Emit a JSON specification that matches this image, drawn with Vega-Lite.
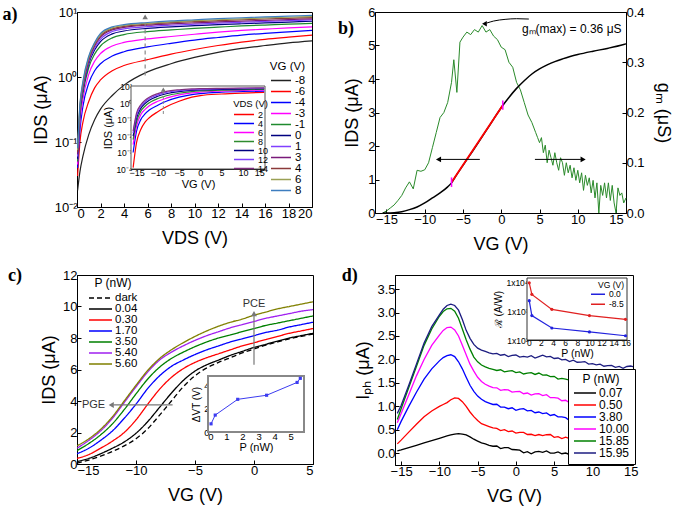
{
  "$schema": "https://vega.github.io/schema/vega-lite/v6.json",
  "padding": {"left": 2, "top": 5, "right": 2, "bottom": 2},
  "background": "white",
  "config": {
    "view": {"stroke": "#000", "strokeWidth": 1},
    "font": "Liberation Sans",
    "axis": {"grid": false, "domainColor": "#000", "tickColor": "#000", "labelColor": "#000", "titleColor": "#000", "labelFont": "Liberation Sans", "titleFont": "Liberation Sans", "labelFontSize": 13, "titleFontSize": 18, "titleFontWeight": "normal", "tickSize": -4, "labelPadding": 4, "labelOverlap": false},
    "legend": {"labelFont": "Liberation Sans", "titleFont": "Liberation Sans", "titleFontWeight": "normal", "labelColor": "#000", "titleColor": "#000"},
    "text": {"font": "Liberation Sans"}
  },
  "resolve": {"scale": {"color": "independent", "strokeDash": "independent"}, "legend": {"color": "independent", "strokeDash": "independent"}},
  "datasets": {
    "a": [
      {"V":0.05,"-8":0.018,"-6":0.03,"-4":0.04,"-3":0.045,"-1":0.05,"0":0.055,"1":0.06,"3":0.065,"4":0.07,"6":0.075,"8":0.08},
      {"V":0.25,"-8":0.035,"-6":0.1,"-4":0.15,"-3":0.2,"-1":0.25,"0":0.28,"1":0.3,"3":0.32,"4":0.34,"6":0.36,"8":0.38},
      {"V":0.5,"-8":0.06,"-6":0.2,"-4":0.35,"-3":0.45,"-1":0.55,"0":0.62,"1":0.66,"3":0.7,"4":0.75,"6":0.8,"8":0.85},
      {"V":1,"-8":0.13,"-6":0.42,"-4":0.8,"-3":1.1,"-1":1.4,"0":1.6,"1":1.7,"3":1.8,"4":1.9,"6":2.0,"8":2.1},
      {"V":1.5,"-8":0.22,"-6":0.68,"-4":1.25,"-3":1.75,"-1":2.25,"0":2.6,"1":2.8,"3":3.0,"4":3.2,"6":3.3,"8":3.4},
      {"V":2,"-8":0.32,"-6":0.9,"-4":1.6,"-3":2.3,"-1":3.0,"0":3.5,"1":3.8,"3":4.1,"4":4.3,"6":4.5,"8":4.7},
      {"V":3,"-8":0.52,"-6":1.25,"-4":2.1,"-3":3.0,"-1":4.0,"0":4.6,"1":5.0,"3":5.3,"4":5.5,"6":5.7,"8":5.9},
      {"V":4,"-8":0.75,"-6":1.5,"-4":2.45,"-3":3.4,"-1":4.5,"0":5.1,"1":5.5,"3":5.8,"4":6.0,"6":6.2,"8":6.4},
      {"V":6,"-8":1.2,"-6":1.85,"-4":2.9,"-3":3.85,"-1":5.0,"0":5.6,"1":5.95,"3":6.25,"4":6.5,"6":6.7,"8":6.9},
      {"V":8,"-8":1.6,"-6":2.25,"-4":3.3,"-3":4.2,"-1":5.3,"0":5.9,"1":6.25,"3":6.55,"4":6.85,"6":7.05,"8":7.3},
      {"V":10,"-8":2.0,"-6":2.65,"-4":3.7,"-3":4.55,"-1":5.6,"0":6.15,"1":6.5,"3":6.8,"4":7.1,"6":7.35,"8":7.6},
      {"V":12,"-8":2.4,"-6":3.05,"-4":4.05,"-3":4.9,"-1":5.85,"0":6.4,"1":6.75,"3":7.05,"4":7.35,"6":7.6,"8":7.9},
      {"V":14,"-8":2.75,"-6":3.45,"-4":4.4,"-3":5.2,"-1":6.1,"0":6.6,"1":6.95,"3":7.25,"4":7.6,"6":7.85,"8":8.15},
      {"V":16,"-8":3.05,"-6":3.8,"-4":4.7,"-3":5.45,"-1":6.3,"0":6.8,"1":7.15,"3":7.45,"4":7.8,"6":8.1,"8":8.4},
      {"V":18,"-8":3.35,"-6":4.1,"-4":4.95,"-3":5.7,"-1":6.5,"0":7.0,"1":7.35,"3":7.65,"4":8.0,"6":8.3,"8":8.65},
      {"V":20,"-8":3.6,"-6":4.4,"-4":5.2,"-3":5.9,"-1":6.7,"0":7.2,"1":7.55,"3":7.85,"4":8.2,"6":8.5,"8":8.9}
    ],
    "ai": [
      {"V":-15.8,"2":0.00012,"4":0.001,"6":0.003,"8":0.006,"10":0.01,"12":0.015,"14":0.02},
      {"V":-15,"2":0.004,"4":0.02,"6":0.04,"8":0.07,"10":0.12,"12":0.18,"14":0.25},
      {"V":-14,"2":0.025,"4":0.1,"6":0.2,"8":0.32,"10":0.48,"12":0.65,"14":0.8},
      {"V":-13,"2":0.07,"4":0.22,"6":0.42,"8":0.65,"10":0.95,"12":1.2,"14":1.5},
      {"V":-12,"2":0.13,"4":0.38,"6":0.7,"8":1.05,"10":1.5,"12":1.9,"14":2.3},
      {"V":-10,"2":0.3,"4":0.75,"6":1.3,"8":1.9,"10":2.6,"12":3.2,"14":3.8},
      {"V":-8,"2":0.6,"4":1.3,"6":2.0,"8":2.8,"10":3.7,"12":4.5,"14":5.2},
      {"V":-5,"2":1.3,"4":2.3,"6":3.2,"8":4.0,"10":5.0,"12":5.8,"14":6.5},
      {"V":-2,"2":2.3,"4":3.3,"6":4.2,"8":5.0,"10":5.9,"12":6.6,"14":7.3},
      {"V":0,"2":2.9,"4":3.8,"6":4.7,"8":5.5,"10":6.3,"12":7.0,"14":7.6},
      {"V":5,"2":3.6,"4":4.6,"6":5.4,"8":6.1,"10":6.9,"12":7.5,"14":8.0},
      {"V":10,"2":4.1,"4":5.1,"6":5.9,"8":6.6,"10":7.3,"12":7.9,"14":8.3},
      {"V":15,"2":4.5,"4":5.4,"6":6.2,"8":6.9,"10":7.6,"12":8.1,"14":8.5}
    ],
    "bI": [
      {"x":-15.5,"I":0},{"x":-15,"I":0},{"x":-14,"I":0.01},{"x":-13,"I":0.04},{"x":-12,"I":0.1},{"x":-11,"I":0.18},{"x":-10,"I":0.3},{"x":-9,"I":0.45},{"x":-8,"I":0.6},{"x":-7,"I":0.78},{"x":-6.5,"I":0.9},{"x":-6,"I":1.08},{"x":-5,"I":1.42},{"x":-4,"I":1.76},{"x":-3,"I":2.1},{"x":-2,"I":2.45},{"x":-1,"I":2.8},{"x":0,"I":3.15},{"x":1,"I":3.45},{"x":2,"I":3.72},{"x":3,"I":3.95},{"x":4,"I":4.15},{"x":5,"I":4.3},{"x":6,"I":4.42},{"x":7,"I":4.52},{"x":8,"I":4.6},{"x":9,"I":4.67},{"x":10,"I":4.73},{"x":12,"I":4.83},{"x":14,"I":4.92},{"x":16,"I":5.03},{"x":16.3,"I":5.05}
    ],
    "bg": [
      {"x":-15.5,"g":0.0},{"x":-15,"g":0.004},{"x":-14.5,"g":0.01},{"x":-14,"g":0.016},{"x":-13.5,"g":0.025},{"x":-13,"g":0.035},{"x":-12.5,"g":0.05},{"x":-12,"g":0.062},{"x":-11.5,"g":0.048},{"x":-11,"g":0.085},{"x":-10.5,"g":0.083},{"x":-10,"g":0.086},{"x":-9.5,"g":0.1},{"x":-9,"g":0.13},{"x":-8.5,"g":0.16},{"x":-8,"g":0.19},{"x":-7.5,"g":0.2},{"x":-7,"g":0.22},{"x":-6.5,"g":0.26},{"x":-6.2,"g":0.305},{"x":-5.8,"g":0.24},{"x":-5.4,"g":0.34},{"x":-5,"g":0.35},{"x":-4.5,"g":0.36},{"x":-4,"g":0.355},{"x":-3.5,"g":0.365},{"x":-3,"g":0.36},{"x":-2.5,"g":0.373},{"x":-2,"g":0.36},{"x":-1.5,"g":0.365},{"x":-1,"g":0.352},{"x":-0.5,"g":0.345},{"x":0,"g":0.33},{"x":0.5,"g":0.325},{"x":1,"g":0.3},{"x":1.5,"g":0.29},{"x":2,"g":0.26},{"x":2.5,"g":0.245},{"x":3,"g":0.22},{"x":3.5,"g":0.195},{"x":4,"g":0.18},{"x":4.5,"g":0.16},
      {"x":4.75,"g":0.15},{"x":5,"g":0.14},{"x":5.25,"g":0.15},{"x":5.5,"g":0.12},{"x":5.75,"g":0.135},{"x":6,"g":0.1},{"x":6.25,"g":0.125},{"x":6.5,"g":0.11},{"x":6.75,"g":0.095},{"x":7,"g":0.12},{"x":7.25,"g":0.1},{"x":7.5,"g":0.085},{"x":7.75,"g":0.11},{"x":8,"g":0.1},{"x":8.25,"g":0.075},{"x":8.5,"g":0.1},{"x":8.75,"g":0.08},{"x":9,"g":0.095},{"x":9.25,"g":0.07},{"x":9.5,"g":0.09},{"x":9.75,"g":0.065},{"x":10,"g":0.085},{"x":10.25,"g":0.06},{"x":10.5,"g":0.08},{"x":10.75,"g":0.045},{"x":11,"g":0.075},{"x":11.25,"g":0.055},{"x":11.5,"g":0.07},{"x":11.75,"g":0.04},{"x":12,"g":0.065},{"x":12.25,"g":0.03},{"x":12.5,"g":0.06},{"x":12.75,"g":0.0},{"x":13,"g":0.055},{"x":13.25,"g":0.035},{"x":13.5,"g":0.06},{"x":13.75,"g":0.03},{"x":14,"g":0.06},{"x":14.25,"g":0.025},{"x":14.5,"g":0.055},{"x":14.75,"g":0.02},{"x":15,"g":0.0},{"x":15.25,"g":0.05},{"x":15.5,"g":0.035},{"x":15.75,"g":0.04},{"x":16,"g":0.02},{"x":16.3,"g":0.03}
    ],
    "c": [
      {"V":-15,"dark":0.05,"0_04":0.15,"0_30":0.35,"1_70":0.65,"3_50":0.85,"5_40":1.0,"5_60":1.15},
      {"V":-14,"dark":0.25,"0_04":0.35,"0_30":0.6,"1_70":1.0,"3_50":1.3,"5_40":1.5,"5_60":1.6},
      {"V":-13,"dark":0.5,"0_04":0.65,"0_30":1.0,"1_70":1.5,"3_50":1.85,"5_40":2.1,"5_60":2.2},
      {"V":-12,"dark":0.8,"0_04":1.0,"0_30":1.45,"1_70":2.1,"3_50":2.55,"5_40":2.9,"5_60":3.0},
      {"V":-11,"dark":1.15,"0_04":1.4,"0_30":2.0,"1_70":2.9,"3_50":3.45,"5_40":3.9,"5_60":4.0},
      {"V":-10,"dark":1.6,"0_04":1.95,"0_30":2.8,"1_70":3.8,"3_50":4.45,"5_40":4.9,"5_60":5.0},
      {"V":-9,"dark":2.25,"0_04":2.7,"0_30":3.8,"1_70":4.8,"3_50":5.4,"5_40":5.85,"5_60":5.95},
      {"V":-8,"dark":3.1,"0_04":3.6,"0_30":4.75,"1_70":5.6,"3_50":6.15,"5_40":6.6,"5_60":6.7},
      {"V":-7,"dark":4.0,"0_04":4.5,"0_30":5.5,"1_70":6.2,"3_50":6.7,"5_40":7.1,"5_60":7.25},
      {"V":-6,"dark":4.9,"0_04":5.3,"0_30":6.05,"1_70":6.6,"3_50":7.1,"5_40":7.5,"5_60":7.7},
      {"V":-5,"dark":5.6,"0_04":5.9,"0_30":6.45,"1_70":6.95,"3_50":7.45,"5_40":7.85,"5_60":8.1},
      {"V":-4,"dark":6.1,"0_04":6.3,"0_30":6.75,"1_70":7.25,"3_50":7.75,"5_40":8.15,"5_60":8.45},
      {"V":-3,"dark":6.45,"0_04":6.6,"0_30":7.0,"1_70":7.5,"3_50":8.0,"5_40":8.4,"5_60":8.75},
      {"V":-2,"dark":6.75,"0_04":6.9,"0_30":7.25,"1_70":7.75,"3_50":8.2,"5_40":8.65,"5_60":9.0},
      {"V":-1,"dark":7.05,"0_04":7.15,"0_30":7.5,"1_70":7.95,"3_50":8.4,"5_40":8.85,"5_60":9.2},
      {"V":0,"dark":7.3,"0_04":7.4,"0_30":7.7,"1_70":8.15,"3_50":8.6,"5_40":9.05,"5_60":9.45},
      {"V":1,"dark":7.55,"0_04":7.6,"0_30":7.9,"1_70":8.35,"3_50":8.8,"5_40":9.25,"5_60":9.65},
      {"V":2,"dark":7.75,"0_04":7.8,"0_30":8.1,"1_70":8.5,"3_50":8.95,"5_40":9.4,"5_60":9.85},
      {"V":3,"dark":7.95,"0_04":8.0,"0_30":8.3,"1_70":8.7,"3_50":9.1,"5_40":9.55,"5_60":10.0},
      {"V":4,"dark":8.1,"0_04":8.15,"0_30":8.45,"1_70":8.85,"3_50":9.25,"5_40":9.7,"5_60":10.15},
      {"V":5,"dark":8.25,"0_04":8.3,"0_30":8.6,"1_70":9.0,"3_50":9.4,"5_40":9.8,"5_60":10.3}
    ],
    "ci": [
      {"P":0.04,"dV":0.7},{"P":0.3,"dV":1.45},{"P":1.7,"dV":2.8},{"P":3.5,"dV":3.15},{"P":5.4,"dV":4.25},{"P":5.6,"dV":4.6}
    ],
    "d": [
      {"x":-15.5,"0_07":0.05,"0_50":0.2,"3_80":0.5,"10_00":0.65,"15_85":0.72,"15_95":0.85},
      {"x":-15,"0_07":0.07,"0_50":0.28,"3_80":0.68,"10_00":0.85,"15_85":0.95,"15_95":1.02},
      {"x":-14,"0_07":0.12,"0_50":0.45,"3_80":1.0,"10_00":1.25,"15_85":1.4,"15_95":1.45},
      {"x":-13,"0_07":0.17,"0_50":0.62,"3_80":1.3,"10_00":1.65,"15_85":1.85,"15_95":1.9},
      {"x":-12,"0_07":0.22,"0_50":0.78,"3_80":1.58,"10_00":2.0,"15_85":2.3,"15_95":2.35},
      {"x":-11,"0_07":0.27,"0_50":0.9,"3_80":1.8,"10_00":2.3,"15_85":2.65,"15_95":2.7},
      {"x":-10,"0_07":0.32,"0_50":1.0,"3_80":1.97,"10_00":2.52,"15_85":2.92,"15_95":2.95},
      {"x":-9.5,"0_07":0.345,"0_50":1.04,"3_80":2.04,"10_00":2.62,"15_85":3.02,"15_95":3.07},
      {"x":-9,"0_07":0.37,"0_50":1.08,"3_80":2.08,"10_00":2.68,"15_85":3.08,"15_95":3.15},
      {"x":-8.5,"0_07":0.39,"0_50":1.14,"3_80":2.1,"10_00":2.69,"15_85":3.09,"15_95":3.18},
      {"x":-8,"0_07":0.41,"0_50":1.18,"3_80":2.06,"10_00":2.63,"15_85":3.03,"15_95":3.15},
      {"x":-7.5,"0_07":0.42,"0_50":1.17,"3_80":1.95,"10_00":2.5,"15_85":2.88,"15_95":3.05},
      {"x":-7,"0_07":0.41,"0_50":1.1,"3_80":1.8,"10_00":2.3,"15_85":2.65,"15_95":2.85},
      {"x":-6.5,"0_07":0.39,"0_50":1.0,"3_80":1.62,"10_00":2.1,"15_85":2.42,"15_95":2.62},
      {"x":-6,"0_07":0.35,"0_50":0.88,"3_80":1.45,"10_00":1.9,"15_85":2.22,"15_95":2.45},
      {"x":-5.5,"0_07":0.3,"0_50":0.78,"3_80":1.32,"10_00":1.75,"15_85":2.05,"15_95":2.32},
      {"x":-5,"0_07":0.26,"0_50":0.7,"3_80":1.22,"10_00":1.62,"15_85":1.95,"15_95":2.24},
      {"x":-4.5,"0_07":0.22,"0_50":0.63,"3_80":1.15,"10_00":1.53,"15_85":1.88,"15_95":2.2},
      {"x":-4,"0_07":0.2,"0_50":0.6,"3_80":1.1,"10_00":1.47,"15_85":1.84,"15_95":2.17},
      {"x":-3.5,"0_07":0.17,"0_50":0.57,"3_80":1.07,"10_00":1.43,"15_85":1.81,"15_95":2.14},
      {"x":-3,"0_07":0.15,"0_50":0.54,"3_80":1.04,"10_00":1.4,"15_85":1.79,"15_95":2.12},
      {"x":-2.5,"0_07":0.155,"0_50":0.53,"3_80":1.045,"10_00":1.395,"15_85":1.765,"15_95":2.13},
      {"x":-2,"0_07":0.10,"0_50":0.485,"3_80":0.985,"10_00":1.34,"15_85":1.78,"15_95":2.09},
      {"x":-1.5,"0_07":0.12,"0_50":0.505,"3_80":0.985,"10_00":1.355,"15_85":1.735,"15_95":2.105},
      {"x":-1,"0_07":0.12,"0_50":0.46,"3_80":0.95,"10_00":1.35,"15_85":1.75,"15_95":2.06},
      {"x":-0.5,"0_07":0.08,"0_50":0.475,"3_80":0.97,"10_00":1.305,"15_85":1.76,"15_95":2.085},
      {"x":0,"0_07":0.075,"0_50":0.43,"3_80":0.915,"10_00":1.315,"15_85":1.72,"15_95":2.095},
      {"x":0.5,"0_07":0.065,"0_50":0.445,"3_80":0.94,"10_00":1.32,"15_85":1.735,"15_95":2.05},
      {"x":1,"0_07":0.01,"0_50":0.445,"3_80":0.95,"10_00":1.27,"15_85":1.69,"15_95":2.065},
      {"x":1.5,"0_07":0.035,"0_50":0.4,"3_80":0.905,"10_00":1.285,"15_85":1.71,"15_95":2.05},
      {"x":2,"0_07":-0.01,"0_50":0.405,"3_80":0.915,"10_00":1.24,"15_85":1.72,"15_95":2.08},
      {"x":2.5,"0_07":0.03,"0_50":0.375,"3_80":0.865,"10_00":1.265,"15_85":1.68,"15_95":2.03},
      {"x":3,"0_07":0.04,"0_50":0.4,"3_80":0.88,"10_00":1.27,"15_85":1.71,"15_95":2.06},
      {"x":3.5,"0_07":0.02,"0_50":0.375,"3_80":0.845,"10_00":1.23,"15_85":1.665,"15_95":2.09},
      {"x":4,"0_07":0.05,"0_50":0.395,"3_80":0.86,"10_00":1.25,"15_85":1.67,"15_95":2.055},
      {"x":4.5,"0_07":0.005,"0_50":0.4,"3_80":0.805,"10_00":1.185,"15_85":1.635,"15_95":2.065},
      {"x":5,"0_07":0.005,"0_50":0.34,"3_80":0.825,"10_00":1.185,"15_85":1.64,"15_95":2.02},
      {"x":5.5,"0_07":0.03,"0_50":0.355,"3_80":0.775,"10_00":1.175,"15_85":1.58,"15_95":2.03},
      {"x":6,"0_07":-0.01,"0_50":0.315,"3_80":0.775,"10_00":1.12,"15_85":1.595,"15_95":1.99},
      {"x":6.5,"0_07":0.005,"0_50":0.345,"3_80":0.76,"10_00":1.13,"15_85":1.58,"15_95":2.0},
      {"x":7,"0_07":-0.025,"0_50":0.315,"3_80":0.7,"10_00":1.075,"15_85":1.56,"15_95":1.955},
      {"x":7.5,"0_07":0.01,"0_50":0.32,"3_80":0.72,"10_00":1.1,"15_85":1.58,"15_95":1.985},
      {"x":8,"0_07":0.02,"0_50":0.28,"3_80":0.695,"10_00":1.1,"15_85":1.535,"15_95":1.94},
      {"x":8.5,"0_07":-0.005,"0_50":0.305,"3_80":0.71,"10_00":1.065,"15_85":1.55,"15_95":1.945},
      {"x":9,"0_07":0.015,"0_50":0.27,"3_80":0.665,"10_00":1.075,"15_85":1.555,"15_95":1.955},
      {"x":9.5,"0_07":-0.02,"0_50":0.29,"3_80":0.68,"10_00":1.03,"15_85":1.51,"15_95":1.9},
      {"x":10,"0_07":0.01,"0_50":0.25,"3_80":0.685,"10_00":1.05,"15_85":1.525,"15_95":1.91},
      {"x":10.5,"0_07":0.025,"0_50":0.27,"3_80":0.64,"10_00":1.055,"15_85":1.48,"15_95":1.885},
      {"x":11,"0_07":-0.01,"0_50":0.255,"3_80":0.655,"10_00":1.01,"15_85":1.51,"15_95":1.9},
      {"x":11.5,"0_07":0.005,"0_50":0.225,"3_80":0.61,"10_00":1.015,"15_85":1.51,"15_95":1.855},
      {"x":12,"0_07":0.02,"0_50":0.255,"3_80":0.63,"10_00":1.02,"15_85":1.465,"15_95":1.87},
      {"x":12.5,"0_07":-0.015,"0_50":0.225,"3_80":0.63,"10_00":0.975,"15_85":1.475,"15_95":1.875},
      {"x":13,"0_07":0.01,"0_50":0.25,"3_80":0.59,"10_00":0.99,"15_85":1.49,"15_95":1.83},
      {"x":13.5,"0_07":-0.01,"0_50":0.22,"3_80":0.61,"10_00":0.965,"15_85":1.45,"15_95":1.85},
      {"x":14,"0_07":0.02,"0_50":0.23,"3_80":0.57,"10_00":0.99,"15_85":1.475,"15_95":1.81},
      {"x":14.5,"0_07":0.005,"0_50":0.2,"3_80":0.585,"10_00":0.965,"15_85":1.43,"15_95":1.85},
      {"x":15,"0_07":-0.015,"0_50":0.23,"3_80":0.54,"10_00":0.94,"15_85":1.46,"15_95":1.86},
      {"x":15.5,"0_07":0.0,"0_50":0.2,"3_80":0.56,"10_00":0.96,"15_85":1.445,"15_95":1.84}
    ],
    "di": [
      {"P":0.07,"R":2300,"VG":"0.0"},{"P":0.5,"R":700,"VG":"0.0"},{"P":3.8,"R":260,"VG":"0.0"},{"P":10,"R":190,"VG":"0.0"},{"P":15.95,"R":140,"VG":"0.0"},
      {"P":0.07,"R":9500,"VG":"-8.5"},{"P":0.5,"R":3800,"VG":"-8.5"},{"P":3.8,"R":1150,"VG":"-8.5"},{"P":10,"R":700,"VG":"-8.5"},{"P":15.95,"R":520,"VG":"-8.5"}
    ]
  },
  "vconcat": [
    {
      "resolve": {"scale": {"color": "independent", "strokeDash": "independent"}, "legend": {"color": "independent", "strokeDash": "independent"}},
      "hconcat": [
        {
          "width": 235, "height": 195,
          "layer": [
            {"layer": [
              {"data": {"name": "a"}, "transform": [{"fold": ["-8","-6","-4","-3","-1","0","1","3","4","6","8"], "as": ["VG","I"]}],
               "mark": {"type": "line", "strokeWidth": 1.2, "interpolate": "monotone", "clip": true},
               "encoding": {
                 "x": {"field": "V", "type": "quantitative", "scale": {"domain": [0, 20], "nice": false}, "axis": {"orient": "bottom", "values": [0,2,4,6,8,10,12,14,16,18,20], "tickCount": 50, "format": "d", "labelOverlap": false, "title": "VDS (V)", "titlePadding": 9}},
                 "y": {"field": "I", "type": "quantitative", "scale": {"type": "log", "domain": [0.01, 10], "nice": false}, "axis": {"orient": "left", "values": [0.01,0.1,1,10], "tickCount": 50, "labelOverlap": false, "labelExpr": "datum.value > 5 ? '10¹' : datum.value > 0.5 ? '10⁰' : datum.value > 0.05 ? '10⁻¹' : '10⁻²'", "title": "IDS (μA)"}},
                 "color": {"field": "VG", "type": "nominal", "scale": {"domain": ["-8","-6","-4","-3","-1","0","1","3","4","6","8"], "range": ["#222222","#ff0000","#0000ff","#ff00ff","#1f8a2e","#000080","#8040ff","#7a1a7a","#8b3a3a","#9aa055","#3d7dbf"]},
                   "legend": {"orient": "none", "legendX": 193, "legendY": 49, "title": "VG (V)", "titleFontSize": 11.5, "labelFontSize": 11.5, "symbolType": "stroke", "symbolSize": 400, "symbolStrokeWidth": 1.5, "clipHeight": 10, "rowPadding": -1.7, "titlePadding": 3, "labelOffset": 3, "padding": 0, "titleAnchor": "end"}}
               }},
              {"data": {"values": [{}]}, "mark": {"type": "rule", "color": "#888", "strokeDash": [4, 3], "strokeWidth": 1.2}, "encoding": {"x": {"datum": 5.8}, "y": {"datum": 1.05}, "y2": {"datum": 7.3}}},
              {"data": {"values": [{}]}, "mark": {"type": "point", "shape": "triangle-up", "filled": true, "color": "#777", "size": 30, "opacity": 1}, "encoding": {"x": {"datum": 5.8}, "y": {"datum": 8.4}}},
              {"data": {"values": [{}]}, "mark": {"type": "text", "font": "Liberation Serif", "fontWeight": "bold", "fontSize": 18, "align": "center", "baseline": "middle"}, "encoding": {"x": {"datum": -5.7}, "y": {"datum": 9.0}, "text": {"value": "a)"}}}
            ]},
            {"layer": [
              {"data": {"values": [{}]}, "mark": {"type": "rect", "fill": "white", "stroke": "#555", "strokeWidth": 1},
               "encoding": {
                 "x": {"datum": -16.3, "type": "quantitative", "scale": {"domain": [-16.3, 15.2], "range": [54, 188], "nice": false, "zero": false}, "axis": {"orient": "bottom", "offset": -38, "values": [-15,-10,-5,0,5,10,15], "tickCount": 50, "format": "d", "labelOverlap": false, "title": "VG (V)", "labelFontSize": 9, "titleFontSize": 11, "tickSize": -3, "labelPadding": 2, "titlePadding": 1}},
                 "x2": {"datum": 15.2},
                 "y": {"datum": 0.0001, "type": "quantitative", "scale": {"type": "log", "domain": [0.0001, 11], "range": [157, 74], "nice": false}, "axis": {"orient": "left", "offset": -54, "values": [0.0001,0.001,0.01,0.1,1,10], "tickCount": 50, "labelOverlap": false, "labelExpr": "datum.value > 5 ? '10¹' : datum.value > 0.5 ? '10⁰' : datum.value > 0.05 ? '10⁻¹' : datum.value > 0.005 ? '10⁻²' : datum.value > 0.0005 ? '10⁻³' : '10⁻⁴'", "title": "IDS (μA)", "labelFontSize": 8.5, "titleFontSize": 11, "tickSize": -3, "labelPadding": 2, "titlePadding": 2}},
                 "y2": {"datum": 11}
               }},
              {"data": {"name": "ai"}, "transform": [{"fold": ["2","4","6","8","10","12","14"], "as": ["VDS","I"]}],
               "mark": {"type": "line", "strokeWidth": 1.2, "interpolate": "monotone", "clip": true},
               "encoding": {
                 "x": {"field": "V", "type": "quantitative"},
                 "y": {"field": "I", "type": "quantitative"},
                 "color": {"field": "VDS", "type": "nominal", "scale": {"domain": ["2","4","6","8","10","12","14"], "range": ["#ff0000","#0000ff","#ff00ff","#2e8b2e","#000080","#8040ff","#803080"]},
                   "legend": {"orient": "none", "legendX": 156, "legendY": 87, "title": "VDS (V)", "titleFontSize": 9.5, "labelFontSize": 9, "symbolType": "stroke", "symbolSize": 400, "symbolStrokeWidth": 1.5, "clipHeight": 8, "rowPadding": -1.5, "titlePadding": 2, "labelOffset": 3, "padding": 0, "titleAnchor": "end"}}
               }},
              {"data": {"values": [{}]}, "mark": {"type": "rule", "color": "#888", "strokeDash": [3, 2], "strokeWidth": 1}, "encoding": {"x": {"datum": -8.7}, "y": {"datum": 0.22}, "y2": {"datum": 4.9}}},
              {"data": {"values": [{}]}, "mark": {"type": "point", "shape": "triangle-up", "filled": true, "color": "#777", "size": 25, "opacity": 1}, "encoding": {"x": {"datum": -8.7}, "y": {"datum": 6.6}}}
            ]}
          ],
          "resolve": {"scale": {"x": "independent", "y": "independent", "color": "independent"}}
        },
        {
          "width": 251, "height": 201,
          "layer": [
            {"data": {"name": "bg"}, "mark": {"type": "line", "color": "#2a8a2a", "strokeWidth": 1},
             "encoding": {
               "x": {"field": "x", "type": "quantitative", "scale": {"domain": [-16.5, 16.3], "nice": false, "zero": false}, "axis": {"orient": "bottom", "values": [-15,-10,-5,0,5,10,15], "tickCount": 50, "format": "d", "labelOverlap": false, "title": "VG (V)", "titlePadding": 9}},
               "y": {"field": "g", "type": "quantitative", "scale": {"domain": [0, 0.4], "nice": false}, "axis": {"orient": "right", "values": [0,0.1,0.2,0.3,0.4], "tickCount": 50, "labelOverlap": false, "format": ".1f", "title": "gₘ (μS)", "titlePadding": 9}}
             }},
            {"layer": [
              {"data": {"name": "bI"}, "mark": {"type": "line", "color": "#000", "strokeWidth": 1.5, "interpolate": "monotone"},
               "encoding": {
                 "x": {"field": "x", "type": "quantitative"},
                 "y": {"field": "I", "type": "quantitative", "scale": {"domain": [0, 6], "nice": false}, "axis": {"orient": "left", "values": [0,1,2,3,4,5,6], "tickCount": 50, "format": "d", "labelOverlap": false, "title": "IDS (μA)", "titlePadding": 6}}
               }},
              {"data": {"values": [{"x": -6.5, "I": 0.92}, {"x": 0.2, "I": 3.22}]}, "mark": {"type": "line", "color": "#ff0000", "strokeWidth": 1.8}, "encoding": {"x": {"field": "x", "type": "quantitative"}, "y": {"field": "I", "type": "quantitative"}}},
              {"data": {"values": [{"x": -6.5, "I": 0.92}, {"x": 0.2, "I": 3.22}]}, "mark": {"type": "point", "shape": "M0,-1L0,1", "color": "#ff00ff", "strokeWidth": 1.5, "size": 90, "opacity": 1}, "encoding": {"x": {"field": "x", "type": "quantitative"}, "y": {"field": "I", "type": "quantitative"}}},
              {"data": {"values": [{}]}, "mark": {"type": "rule", "color": "#000", "strokeWidth": 1}, "encoding": {"x": {"datum": -2.8}, "x2": {"datum": -7.9}, "y": {"datum": 1.6}}},
              {"data": {"values": [{}]}, "mark": {"type": "point", "shape": "triangle-left", "filled": true, "color": "#000", "size": 35, "opacity": 1}, "encoding": {"x": {"datum": -8.2}, "y": {"datum": 1.6}}},
              {"data": {"values": [{}]}, "mark": {"type": "rule", "color": "#000", "strokeWidth": 1}, "encoding": {"x": {"datum": 4.4}, "x2": {"datum": 10.4}, "y": {"datum": 1.6}}},
              {"data": {"values": [{}]}, "mark": {"type": "point", "shape": "triangle-right", "filled": true, "color": "#000", "size": 35, "opacity": 1}, "encoding": {"x": {"datum": 10.7}, "y": {"datum": 1.6}}},
              {"data": {"values": [{"x": 3.6, "I": 5.79}, {"x": 2, "I": 5.8}, {"x": 0.5, "I": 5.78}, {"x": -1, "I": 5.73}, {"x": -1.9, "I": 5.67}]}, "mark": {"type": "line", "color": "#000", "strokeWidth": 1, "interpolate": "monotone"}, "encoding": {"x": {"field": "x", "type": "quantitative"}, "y": {"field": "I", "type": "quantitative"}}},
              {"data": {"values": [{}]}, "mark": {"type": "point", "shape": "triangle-left", "filled": true, "color": "#000", "size": 30, "opacity": 1}, "encoding": {"x": {"datum": -2.2}, "y": {"datum": 5.65}}},
              {"data": {"values": [{}]}, "mark": {"type": "text", "fontSize": 12, "align": "left", "baseline": "middle"}, "encoding": {"x": {"datum": 2.7}, "y": {"datum": 5.5}, "text": {"value": "gₘ(max) = 0.36 μS"}}},
              {"data": {"values": [{}]}, "mark": {"type": "text", "font": "Liberation Serif", "fontWeight": "bold", "fontSize": 18, "align": "center", "baseline": "middle"}, "encoding": {"x": {"datum": -20.3}, "y": {"datum": 5.49}, "text": {"value": "b)"}}}
            ]}
          ],
          "resolve": {"scale": {"y": "independent"}}
        }
      ],
      "spacing": 24
    },
    {
      "resolve": {"scale": {"color": "independent", "strokeDash": "independent"}, "legend": {"color": "independent", "strokeDash": "independent"}},
      "hconcat": [
        {
          "width": 236, "height": 189,
          "layer": [
            {"layer": [
              {"data": {"name": "c"}, "transform": [{"fold": ["dark","0_04","0_30","1_70","3_50","5_40","5_60"], "as": ["P","I"]}],
               "mark": {"type": "line", "strokeWidth": 1.3, "interpolate": "monotone", "clip": true},
               "encoding": {
                 "x": {"field": "V", "type": "quantitative", "scale": {"domain": [-15, 5], "nice": false, "zero": false}, "axis": {"orient": "bottom", "values": [-15,-10,-5,0,5], "tickCount": 50, "format": "d", "labelOverlap": false, "title": "VG (V)", "titlePadding": 9}},
                 "y": {"field": "I", "type": "quantitative", "scale": {"domain": [0, 12], "nice": false}, "axis": {"orient": "left", "values": [0,2,4,6,8,10,12], "tickCount": 50, "format": "d", "labelOverlap": false, "title": "IDS (μA)"}},
                 "color": {"field": "P", "type": "nominal", "scale": {"domain": ["dark","0_04","0_30","1_70","3_50","5_40","5_60"], "range": ["#000000","#000000","#ff0000","#0000ff","#008000","#a020f0","#808000"]},
                   "legend": {"orient": "none", "legendX": 11, "legendY": 3, "title": "P (nW)", "titleFontSize": 12, "labelFontSize": 11.5, "symbolType": "stroke", "symbolSize": 529, "symbolStrokeWidth": 1.5, "clipHeight": 10, "rowPadding": -2.2, "titlePadding": 3, "labelOffset": 2, "padding": 0, "titleAnchor": "middle", "labelExpr": "replace(datum.label, '_', '.')"}},
                 "strokeDash": {"field": "P", "type": "nominal", "scale": {"domain": ["dark","0_04","0_30","1_70","3_50","5_40","5_60"], "range": [[5,3],[1,0],[1,0],[1,0],[1,0],[1,0],[1,0]]},
                   "legend": {"orient": "none", "legendX": 11, "legendY": 3, "title": "P (nW)", "titleFontSize": 12, "labelFontSize": 11.5, "symbolType": "stroke", "symbolSize": 529, "symbolStrokeWidth": 1.5, "clipHeight": 10, "rowPadding": -2.2, "titlePadding": 3, "labelOffset": 2, "padding": 0, "titleAnchor": "middle", "labelExpr": "replace(datum.label, '_', '.')"}}
               }},
              {"data": {"values": [{}]}, "mark": {"type": "rule", "color": "#777", "strokeWidth": 1.2}, "encoding": {"x": {"datum": 0}, "y": {"datum": 6.3}, "y2": {"datum": 9.4}}},
              {"data": {"values": [{}]}, "mark": {"type": "point", "shape": "triangle-up", "filled": true, "color": "#777", "size": 35, "opacity": 1}, "encoding": {"x": {"datum": 0}, "y": {"datum": 9.55}}},
              {"data": {"values": [{}]}, "mark": {"type": "text", "fontSize": 11, "color": "#333", "align": "center", "baseline": "middle"}, "encoding": {"x": {"datum": 0}, "y": {"datum": 10.15}, "text": {"value": "PCE"}}},
              {"data": {"values": [{}]}, "mark": {"type": "rule", "color": "#777", "strokeWidth": 1.2}, "encoding": {"x": {"datum": -6.9}, "x2": {"datum": -11.9}, "y": {"datum": 3.75}}},
              {"data": {"values": [{}]}, "mark": {"type": "point", "shape": "triangle-left", "filled": true, "color": "#777", "size": 35, "opacity": 1}, "encoding": {"x": {"datum": -12.1}, "y": {"datum": 3.75}}},
              {"data": {"values": [{}]}, "mark": {"type": "text", "fontSize": 11, "color": "#333", "align": "center", "baseline": "middle"}, "encoding": {"x": {"datum": -13.6}, "y": {"datum": 3.75}, "text": {"value": "PGE"}}},
              {"data": {"values": [{}]}, "mark": {"type": "text", "font": "Liberation Serif", "fontWeight": "bold", "fontSize": 18, "align": "center", "baseline": "middle"}, "encoding": {"x": {"datum": -20.25}, "y": {"datum": 11.95}, "text": {"value": "c)"}}}
            ]},
            {"layer": [
              {"data": {"values": [{}]}, "mark": {"type": "rect", "fill": "white", "stroke": "#888", "strokeWidth": 2},
               "encoding": {
                 "x": {"datum": -0.15, "type": "quantitative", "scale": {"domain": [-0.15, 5.83], "range": [131, 227], "nice": false, "zero": false}, "axis": {"orient": "bottom", "offset": -32, "values": [0,1,2,3,4,5], "tickCount": 50, "format": "d", "labelOverlap": false, "title": "P (nW)", "labelFontSize": 9.5, "titleFontSize": 11, "tickSize": -3, "labelPadding": 2, "titlePadding": 1}},
                 "x2": {"datum": 5.83},
                 "y": {"datum": 0, "type": "quantitative", "scale": {"domain": [0, 4.8], "range": [157, 101], "nice": false}, "axis": {"orient": "left", "offset": -131, "values": [0,2,4], "tickCount": 50, "format": "d", "labelOverlap": false, "title": "ΔVT (V)", "labelFontSize": 9.5, "titleFontSize": 10, "tickSize": -3, "labelPadding": 2, "titlePadding": 2}},
                 "y2": {"datum": 4.8}
               }},
              {"data": {"name": "ci"}, "mark": {"type": "line", "color": "#3c3cf0", "strokeWidth": 1, "point": {"filled": true, "size": 10, "shape": "square", "color": "#3c3cf0"}},
               "encoding": {"x": {"field": "P", "type": "quantitative"}, "y": {"field": "dV", "type": "quantitative"}}}
            ]}
          ],
          "resolve": {"scale": {"x": "independent", "y": "independent"}}
        },
        {
          "width": 238, "height": 190,
          "layer": [
            {"layer": [
              {"data": {"name": "d"}, "transform": [{"fold": ["0_07","0_50","3_80","10_00","15_85","15_95"], "as": ["P","I"]}],
               "mark": {"type": "line", "strokeWidth": 1.3, "clip": true},
               "encoding": {
                 "x": {"field": "x", "type": "quantitative", "scale": {"domain": [-15.8, 15.3], "nice": false, "zero": false}, "axis": {"orient": "bottom", "values": [-15,-10,-5,0,5,10,15], "tickCount": 50, "format": "d", "labelOverlap": false, "title": "VG (V)", "titlePadding": 9}},
                 "y": {"field": "I", "type": "quantitative", "scale": {"domain": [-0.25, 3.8], "nice": false, "zero": false}, "axis": {"orient": "left", "values": [0,0.5,1,1.5,2,2.5,3,3.5], "tickCount": 50, "labelOverlap": false, "format": ".1f", "title": "Iₚₕ (μA)"}},
                 "color": {"field": "P", "type": "nominal", "scale": {"domain": ["0_07","0_50","3_80","10_00","15_85","15_95"], "range": ["#000000","#ff0000","#0000ff","#ff00ff","#008000","#1c1c80"]},
                   "legend": {"orient": "none", "legendX": 173, "legendY": 94, "title": "P (nW)", "titleFontSize": 12, "labelFontSize": 12, "symbolType": "stroke", "symbolSize": 484, "symbolStrokeWidth": 1.5, "clipHeight": 12, "rowPadding": -0.3, "titlePadding": 1, "labelOffset": 2, "padding": 5, "fillColor": "white", "strokeColor": "#000", "titleAnchor": "middle", "labelExpr": "replace(datum.label, '_', '.')"}}
               }},
              {"data": {"values": [{}]}, "mark": {"type": "text", "font": "Liberation Serif", "fontWeight": "bold", "fontSize": 18, "align": "center", "baseline": "middle"}, "encoding": {"x": {"datum": -21.7}, "y": {"datum": 3.78}, "text": {"value": "d)"}}}
            ]},
            {"layer": [
              {"data": {"values": [{}]}, "mark": {"type": "rect", "fill": "white", "stroke": "#333", "strokeWidth": 1},
               "encoding": {
                 "x": {"datum": -0.3, "type": "quantitative", "scale": {"domain": [-0.3, 16.2], "range": [132, 232], "nice": false, "zero": false}, "axis": {"orient": "bottom", "offset": -125, "values": [0,2,4,6,8,10,12,14,16], "tickCount": 50, "format": "d", "labelOverlap": false, "title": "P (nW)", "labelFontSize": 8.5, "titleFontSize": 10.5, "tickSize": -3, "labelPadding": 1, "titlePadding": 2}},
                 "x2": {"datum": 16.2},
                 "y": {"datum": 100, "type": "quantitative", "scale": {"type": "log", "domain": [100, 14000], "range": [65, 3], "nice": false}, "axis": {"orient": "left", "offset": -132, "values": [100,1000,10000], "tickCount": 50, "labelOverlap": false, "labelExpr": "datum.value > 5000 ? '1x10⁴' : datum.value > 500 ? '1x10³' : '1x10²'", "title": "ℛ (A/W)", "labelFontSize": 8.5, "titleFontSize": 10, "tickSize": -3, "labelPadding": 2, "titlePadding": 2}},
                 "y2": {"datum": 14000}
               }},
              {"data": {"name": "di"}, "mark": {"type": "line", "strokeWidth": 1.2, "point": {"filled": true, "size": 10}},
               "encoding": {
                 "x": {"field": "P", "type": "quantitative"},
                 "y": {"field": "R", "type": "quantitative"},
                 "color": {"field": "VG", "type": "nominal", "scale": {"domain": ["0.0","-8.5"], "range": ["#2222dd","#e02020"]},
                   "legend": {"orient": "none", "legendX": 195, "legendY": 6, "title": "VG (V)", "titleFontSize": 8.5, "labelFontSize": 8.5, "symbolType": "stroke", "symbolSize": 196, "symbolStrokeWidth": 1.5, "clipHeight": 7.5, "rowPadding": 0, "titlePadding": 1, "labelOffset": 3, "padding": 0, "titleAnchor": "end"}}
               }}
            ]}
          ],
          "resolve": {"scale": {"x": "independent", "y": "independent", "color": "independent"}}
        }
      ],
      "spacing": 27
    }
  ],
  "spacing": 12
}
